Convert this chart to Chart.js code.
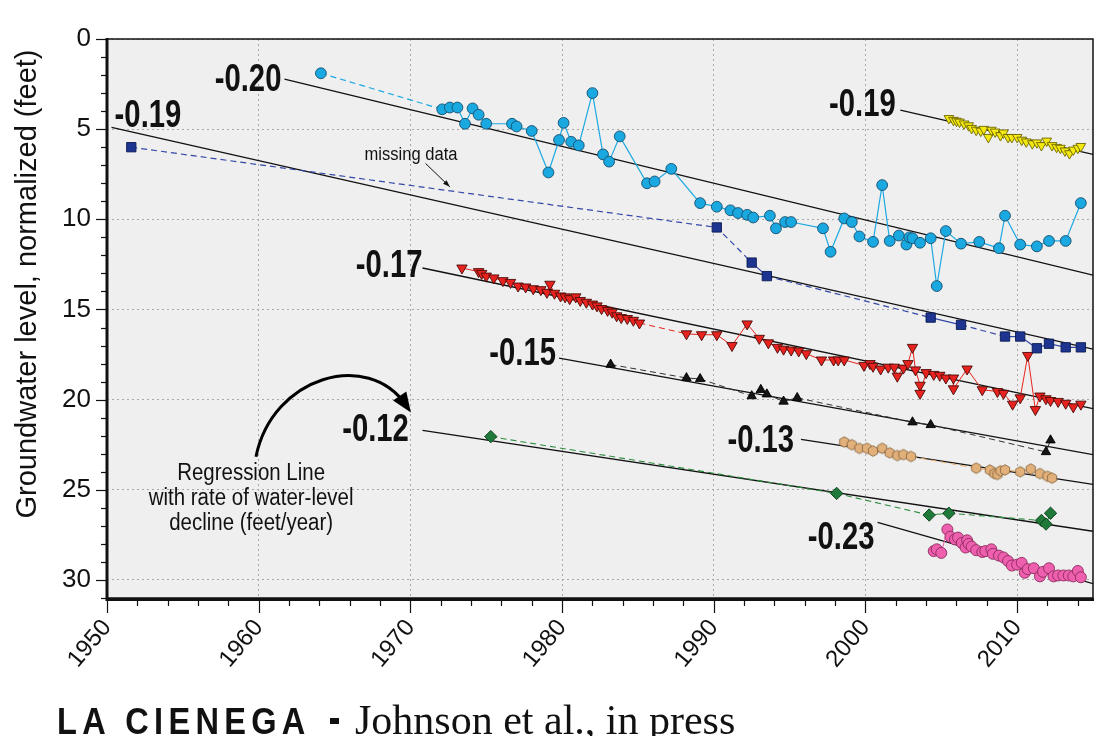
<!DOCTYPE html>
<html>
<head>
<meta charset="utf-8">
<script src="https://cdn.jsdelivr.net/npm/chart.js@4.4.1/dist/chart.umd.min.js"></script>
<style>
  html, body { margin: 0; padding: 0; background: #fff; }
</style>
</head>
<body>
<canvas id="chart" width="1096" height="736"></canvas>
<script>
// axis ticks
const yearTicks = [1950, 1960, 1970, 1980, 1990, 2000, 2010];
const depthTicks = [0, 5, 10, 15, 20, 25, 30];

// light blue circles
const cyanYears = [1964.1, 1972.1, 1972.6, 1973.1, 1973.6, 1974.1, 1974.5, 1975.0, 1976.7, 1977.0, 1978.0, 1979.1, 1979.8, 1980.1, 1980.6, 1981.1, 1982.0, 1982.7, 1983.1, 1983.8, 1985.6, 1986.1, 1987.2, 1989.1, 1990.2, 1991.1, 1991.6, 1992.2, 1992.6, 1993.7, 1994.1, 1994.7, 1995.1, 1997.2, 1997.7, 1998.6, 1999.1, 1999.6, 2000.5, 2001.1, 2001.6, 2002.2, 2002.7, 2002.9, 2003.1, 2003.6, 2004.3, 2004.7, 2005.3, 2006.3, 2007.5, 2008.8, 2009.2, 2010.2, 2011.3, 2012.1, 2013.2, 2014.2];
const cyanLevels = [1.9, 3.9, 3.8, 3.8, 4.7, 3.85, 4.2, 4.7, 4.7, 4.85, 5.1, 7.4, 5.6, 4.65, 5.7, 5.9, 3.0, 6.4, 6.8, 5.4, 8.0, 7.9, 7.2, 9.1, 9.3, 9.5, 9.65, 9.75, 9.9, 9.8, 10.5, 10.15, 10.15, 10.5, 11.8, 9.95, 10.15, 10.95, 11.25, 8.1, 11.2, 10.9, 11.4, 11.0, 11.05, 11.3, 11.05, 13.7, 10.65, 11.35, 11.25, 11.6, 9.8, 11.4, 11.5, 11.2, 11.2, 9.1];

// dark blue squares
const blueYears = [1951.6, 1990.2, 1992.5, 1993.5, 2004.3, 2006.3, 2009.2, 2010.2, 2011.3, 2012.1, 2013.2, 2014.2];
const blueLevels = [6.0, 10.45, 12.4, 13.15, 15.45, 15.85, 16.5, 16.5, 17.15, 16.9, 17.1, 17.1];

// yellow triangles
const yellowYears = [2005.5, 2005.8, 2006.0, 2006.2, 2006.5, 2006.8, 2007.0, 2007.3, 2007.6, 2007.8, 2008.1, 2008.3, 2008.55, 2008.9, 2009.1, 2009.4, 2009.65, 2010.0, 2010.3, 2010.6, 2011.0, 2011.3, 2011.6, 2011.95, 2012.3, 2012.6, 2012.85, 2013.15, 2013.45, 2013.7, 2014.0, 2014.2];
const yellowLevels = [4.4, 4.5, 4.55, 4.6, 4.7, 4.8, 4.95, 5.05, 5.1, 5.0, 5.45, 5.05, 5.15, 5.35, 5.2, 5.45, 5.45, 5.45, 5.6, 5.7, 5.8, 5.75, 5.9, 5.65, 5.9, 6.0, 6.05, 6.2, 6.35, 6.15, 6.05, 5.95];

// red triangles
const redYears = [1973.4, 1974.5, 1974.7, 1975.0, 1975.5, 1976.1, 1976.6, 1977.1, 1977.6, 1978.1, 1978.6, 1979.0, 1979.2, 1979.5, 1979.9, 1980.2, 1980.5, 1980.9, 1981.2, 1981.6, 1982.0, 1982.3, 1982.6, 1983.0, 1983.3, 1983.6, 1983.9, 1984.3, 1984.7, 1985.1, 1988.2, 1989.2, 1990.2, 1991.2, 1992.2, 1993.0, 1993.6, 1994.2, 1994.6, 1995.1, 1995.6, 1996.1, 1997.1, 1997.9, 1998.2, 1998.6, 1999.9, 2000.3, 2000.5, 2001.0, 2001.5, 2001.9, 2002.1, 2002.5, 2002.8, 2003.1, 2003.3, 2003.6, 2003.6, 2004.0, 2004.5, 2004.9, 2005.3, 2005.8, 2005.8, 2006.7, 2007.7, 2008.7, 2009.1, 2009.7, 2010.2, 2010.7, 2011.2, 2011.5, 2011.9, 2012.2, 2012.7, 2013.2, 2013.7, 2014.2];
const redLevels = [12.7, 12.9, 13.0, 13.15, 13.25, 13.4, 13.5, 13.7, 13.75, 13.85, 13.9, 14.05, 13.6, 14.1, 14.25, 14.3, 14.4, 14.3, 14.5, 14.6, 14.7, 14.8, 14.95, 15.05, 15.15, 15.35, 15.45, 15.5, 15.6, 15.75, 16.35, 16.4, 16.4, 17.0, 15.8, 16.6, 16.85, 17.1, 17.2, 17.25, 17.3, 17.45, 17.8, 17.8, 17.8, 17.8, 18.1, 18.0, 18.15, 18.3, 18.2, 18.2, 18.7, 18.25, 18.0, 17.1, 18.35, 19.2, 19.65, 18.5, 18.6, 18.65, 18.8, 18.8, 19.4, 18.3, 19.45, 19.55, 19.65, 20.25, 19.9, 17.55, 20.55, 19.8, 19.95, 20.05, 20.1, 20.2, 20.4, 20.25];

// black triangles
const blackYears = [1983.2, 1988.2, 1989.1, 1992.5, 1993.1, 1993.5, 1994.6, 1995.5, 2003.1, 2004.3, 2011.9, 2012.2];
const blackLevels = [18.05, 18.8, 18.85, 19.8, 19.45, 19.7, 20.1, 19.9, 21.25, 21.4, 22.9, 22.25];

// tan hexagons
const tanYears = [1998.6, 1999.1, 1999.6, 2000.1, 2000.5, 2001.1, 2001.6, 2002.1, 2002.5, 2003.0, 2007.3, 2008.2, 2008.5, 2008.7, 2008.9, 2009.2, 2010.2, 2010.9, 2011.5, 2012.0, 2012.3];
const tanLevels = [22.35, 22.5, 22.7, 22.7, 22.85, 22.7, 22.95, 23.1, 23.05, 23.15, 23.8, 23.9, 24.1, 24.15, 23.95, 23.9, 24.0, 23.85, 24.1, 24.25, 24.35];

// green diamonds
const greenYears = [1975.3, 1998.1, 2004.2, 2005.5, 2011.6, 2011.9, 2012.2];
const greenLevels = [22.05, 25.2, 26.4, 26.3, 26.7, 26.9, 26.3];

// pink circles
const pinkYears = [2004.5, 2004.7, 2005.0, 2005.4, 2005.6, 2005.9, 2006.1, 2006.35, 2006.6, 2006.7, 2006.8, 2007.0, 2007.3, 2007.7, 2007.9, 2008.3, 2008.4, 2008.8, 2009.1, 2009.4, 2009.65, 2010.0, 2010.3, 2010.5, 2010.7, 2011.1, 2011.5, 2011.7, 2012.1, 2012.4, 2012.7, 2013.05, 2013.4, 2013.7, 2014.0, 2014.2];
const pinkLevels = [28.4, 28.3, 28.5, 27.2, 27.6, 27.75, 27.65, 27.95, 28.2, 27.8, 28.0, 28.15, 28.35, 28.45, 28.4, 28.3, 28.55, 28.65, 28.75, 28.95, 29.2, 29.15, 29.05, 29.6, 29.4, 29.35, 29.8, 29.55, 29.35, 29.8, 29.75, 29.75, 29.75, 29.8, 29.5, 29.85];

// regression lines: rate label, start and end
const regRates = ['-0.20', '-0.19', '-0.19', '-0.17', '-0.15', '-0.13', '-0.12', '-0.23'];
const regStartYears = [1961.7, 1950.3, 2002.3, 1970.8, 1979.8, 1995.75, 1970.8, 2000.8];
const regStartLevels = [2.22, 4.9, 3.94, 12.7, 17.7, 22.2, 21.7, 26.8];
const regEndYears = [2015, 2015, 2015, 2015, 2015, 2015, 2015, 2015];
const regEndLevels = [13.1, 17.2, 6.4, 20.5, 23.05, 24.7, 27.3, 30.2];
const regLabelYears = [1959.3, 1952.7, 1999.8, 1968.6, 1977.4, 1993.1, 1967.7, 1998.4];
const regLabelLevels = [2.28, 4.3, 3.67, 12.6, 17.5, 22.33, 21.72, 27.72];

const SANS = "'Liberation Sans', Arial, sans-serif";

function pts(xs, ys) {
  return xs.map((x, i) => ({ x: x, y: ys[i] }));
}

// dashed where the record has a gap
function gapDash(limit) {
  return {
    borderDash: c => (c.p1.parsed.x - c.p0.parsed.x > limit ? [6, 4] : undefined)
  };
}

function hexagon(r, fill, stroke) {
  const c = document.createElement('canvas');
  const s = Math.ceil(r * 2 + 3);
  c.width = s; c.height = s;
  const g = c.getContext('2d');
  g.beginPath();
  for (let i = 0; i < 6; i++) {
    const a = Math.PI / 6 + i * Math.PI / 3;
    const px = s / 2 + r * Math.cos(a), py = s / 2 + r * Math.sin(a);
    if (i === 0) g.moveTo(px, py); else g.lineTo(px, py);
  }
  g.closePath();
  g.fillStyle = fill; g.fill();
  g.lineWidth = 0.9; g.strokeStyle = stroke; g.stroke();
  return c;
}

function series(xs, ys, o) {
  return Object.assign({
    type: 'scatter',
    data: pts(xs, ys),
    showLine: true,
    borderWidth: 1.2,
    pointBorderWidth: 0.9
  }, o);
}

const datasets = [
  series(cyanYears, cyanLevels, {
    borderColor: '#1fa9e3', pointBackgroundColor: '#1aa8e0', pointBorderColor: '#134e6e',
    pointStyle: 'circle', pointRadius: 5.4, segment: gapDash(3)
  }),
  series(blueYears, blueLevels, {
    borderColor: '#3548a8', pointBackgroundColor: '#1d3590', pointBorderColor: '#0b1a50',
    pointStyle: 'rect', pointRadius: 6.6, segment: gapDash(2.1)
  }),
  series(yellowYears, yellowLevels, {
    showLine: false, pointBackgroundColor: '#f4e812', pointBorderColor: '#6e6600',
    pointStyle: 'triangle', rotation: 180, pointRadius: 5.6
  }),
  series(redYears, redLevels, {
    borderColor: '#e8241f', borderWidth: 1, pointBackgroundColor: '#e8231f', pointBorderColor: '#4a0a08',
    pointStyle: 'triangle', rotation: 180, pointRadius: 6, segment: gapDash(2.5)
  }),
  series(blackYears, blackLevels, {
    borderColor: '#333', borderWidth: 1, pointBackgroundColor: '#151515', pointBorderColor: '#000',
    pointStyle: 'triangle', pointRadius: 5.4, segment: gapDash(2)
  }),
  series(tanYears, tanLevels, {
    borderColor: '#e9a969', borderWidth: 1, pointBorderWidth: 0,
    pointStyle: hexagon(5.3, '#e2b07a', '#8c6a44'), pointRadius: 5.5, segment: gapDash(2)
  }),
  series(greenYears, greenLevels, {
    borderColor: '#2c8c3e', borderWidth: 1.1, pointBackgroundColor: '#1f7a3a', pointBorderColor: '#0c3b1a',
    pointStyle: 'rectRot', pointRadius: 6.2, segment: gapDash(2)
  }),
  series(pinkYears, pinkLevels, {
    borderColor: '#ea63ac', borderWidth: 1, pointBackgroundColor: '#ee5fae', pointBorderColor: '#8d2a5f',
    pointStyle: 'circle', pointRadius: 5.5
  })
];

regRates.forEach((r, i) => {
  datasets.push({
    type: 'scatter',
    data: [{ x: regStartYears[i], y: regStartLevels[i] }, { x: regEndYears[i], y: regEndLevels[i] }],
    showLine: true,
    borderColor: '#111',
    borderWidth: 1.3,
    pointRadius: 0
  });
});

function condensed(ctx, text, x, y, font, sx, align) {
  ctx.save();
  ctx.font = font;
  ctx.translate(x, y);
  ctx.scale(sx, 1);
  ctx.textAlign = align || 'center';
  ctx.textBaseline = 'middle';
  ctx.fillStyle = '#111';
  ctx.fillText(text, 0, 0);
  ctx.restore();
}

function arrowHead(ctx, x, y, ang, len, wid) {
  ctx.beginPath();
  ctx.moveTo(x, y);
  ctx.lineTo(x - len * Math.cos(ang) + wid / 2 * Math.sin(ang), y - len * Math.sin(ang) - wid / 2 * Math.cos(ang));
  ctx.lineTo(x - len * Math.cos(ang) - wid / 2 * Math.sin(ang), y - len * Math.sin(ang) + wid / 2 * Math.cos(ang));
  ctx.closePath();
  ctx.fill();
}

const decor = {
  id: 'decor',
  beforeDraw(chart) {
    const { ctx, chartArea: a } = chart;
    ctx.save();
    ctx.fillStyle = '#eeefee';
    ctx.fillRect(a.left, a.top, a.right - a.left, a.bottom - a.top);
    ctx.restore();
  },
  afterDatasetsDraw(chart) {
    const { ctx } = chart;
    const xs = chart.scales.x, ys = chart.scales.y;
    const X = v => xs.getPixelForValue(v), Y = v => ys.getPixelForValue(v);

    regRates.forEach((r, i) => {
      condensed(ctx, r, X(regLabelYears[i]), Y(regLabelLevels[i]), 'bold 38px ' + SANS, 0.77);
    });

    // missing data note
    condensed(ctx, 'missing data', X(1970.04), Y(6.44), '18px ' + SANS, 0.92);
    ctx.save();
    ctx.strokeStyle = '#111'; ctx.fillStyle = '#111'; ctx.lineWidth = 1;
    const m0x = X(1971.0), m0y = Y(6.9), m1x = X(1972.6), m1y = Y(8.2);
    ctx.beginPath(); ctx.moveTo(m0x, m0y); ctx.lineTo(m1x, m1y); ctx.stroke();
    arrowHead(ctx, m1x, m1y, Math.atan2(m1y - m0y, m1x - m0x), 7, 5);
    ctx.restore();

    // regression note and curved arrow
    const nx = X(1959.5);
    condensed(ctx, 'Regression Line', nx, Y(24.1), '23px ' + SANS, 0.89);
    condensed(ctx, 'with rate of water-level', nx, Y(25.5), '23px ' + SANS, 0.89);
    condensed(ctx, 'decline (feet/year)', nx, Y(26.9), '23px ' + SANS, 0.89);

    ctx.save();
    ctx.strokeStyle = '#000'; ctx.fillStyle = '#000'; ctx.lineWidth = 3;
    const p0 = [X(1959.82), Y(23.17)], c1 = [X(1960.9), Y(18.7)], c2 = [X(1967.2), Y(17.2)], p3 = [X(1969.7), Y(20.3)];
    ctx.beginPath();
    ctx.moveTo(p0[0], p0[1]);
    ctx.bezierCurveTo(c1[0], c1[1], c2[0], c2[1], p3[0], p3[1]);
    ctx.stroke();
    const ang = Math.atan2(p3[1] - c2[1], p3[0] - c2[0]);
    arrowHead(ctx, p3[0] + 9 * Math.cos(ang), p3[1] + 9 * Math.sin(ang), ang, 20, 16);
    ctx.restore();
  },
  afterDraw(chart) {
    const { ctx, chartArea: a } = chart;
    const xs = chart.scales.x, ys = chart.scales.y;
    ctx.save();
    ctx.strokeStyle = '#111';
    // tick marks
    ctx.lineWidth = 1.2;
    for (let v = 0; v <= 31; v++) {
      const y = Math.round(ys.getPixelForValue(v)) + 0.5;
      const len = v % 5 === 0 ? 11 : 6;
      ctx.beginPath(); ctx.moveTo(a.left - len, y); ctx.lineTo(a.left, y); ctx.stroke();
    }
    for (let v = 1950; v <= 2015; v += 2) {
      const x = Math.round(xs.getPixelForValue(v)) + 0.5;
      const len = v % 10 === 0 ? 15 : 8;
      ctx.beginPath(); ctx.moveTo(x, a.bottom); ctx.lineTo(x, a.bottom + len); ctx.stroke();
    }
    // frame
    ctx.lineWidth = 1.5;
    ctx.strokeRect(a.left, a.top, a.right - a.left, a.bottom - a.top);
    ctx.lineWidth = 3;
    ctx.beginPath();
    ctx.moveTo(a.left, a.top - 1); ctx.lineTo(a.left, a.bottom + 1.5); ctx.lineTo(a.right + 1, a.bottom + 1.5);
    ctx.stroke();

    // y axis title
    ctx.fillStyle = '#111';
    ctx.translate(36, 284);
    ctx.rotate(-Math.PI / 2);
    ctx.font = '29px ' + SANS;
    ctx.textAlign = 'center';
    ctx.textBaseline = 'alphabetic';
    ctx.fillText('Groundwater level, normalized (feet)', 0, 0);
    ctx.restore();

    // caption
    ctx.save();
    ctx.fillStyle = '#111';
    ctx.textBaseline = 'alphabetic';
    ctx.translate(57, 734);
    ctx.save();
    ctx.scale(0.88, 1);
    ctx.font = 'bold 37px ' + SANS;
    ctx.letterSpacing = '6px';
    ctx.fillText('LA CIENEGA', 0, 0);
    ctx.restore();
    ctx.fillRect(273, -16, 9, 6);
    ctx.font = '42px "Liberation Serif", "Times New Roman", serif';
    ctx.fillText('Johnson et al., in press', 298, 0);
    ctx.restore();
  }
};

new Chart(document.getElementById('chart'), {
  type: 'scatter',
  data: { datasets: datasets },
  options: {
    responsive: false,
    animation: false,
    layout: { autoPadding: false, padding: { left: 0, right: 3, top: 39, bottom: 0 } },
    plugins: { legend: { display: false }, tooltip: { enabled: false } },
    scales: {
      x: {
        type: 'linear', min: 1950, max: 2015,
        afterBuildTicks: s => { s.ticks = yearTicks.map(v => ({ value: v })); },
        afterFit: s => { s.height = 138; s.paddingRight = 0; s.paddingLeft = 0; },
        grid: { color: '#a8a8a8', lineWidth: 1, drawTicks: false },
        border: { display: false, dash: [2, 3] },
        ticks: {
          minRotation: 50, maxRotation: 50, autoSkip: false, padding: 16,
          color: '#111', font: { family: SANS, size: 24 },
          callback: v => String(v)
        }
      },
      y: {
        type: 'linear', min: 0, max: 31, reverse: true,
        afterBuildTicks: s => { s.ticks = depthTicks.map(v => ({ value: v })); },
        afterFit: s => { s.width = 107; },
        grid: { color: '#a8a8a8', lineWidth: 1, drawTicks: false },
        border: { display: false, dash: [2, 3] },
        ticks: {
          padding: 16, color: '#111', font: { family: SANS, size: 26 }
        }
      }
    }
  },
  plugins: [decor]
});
</script>
</body>
</html>
